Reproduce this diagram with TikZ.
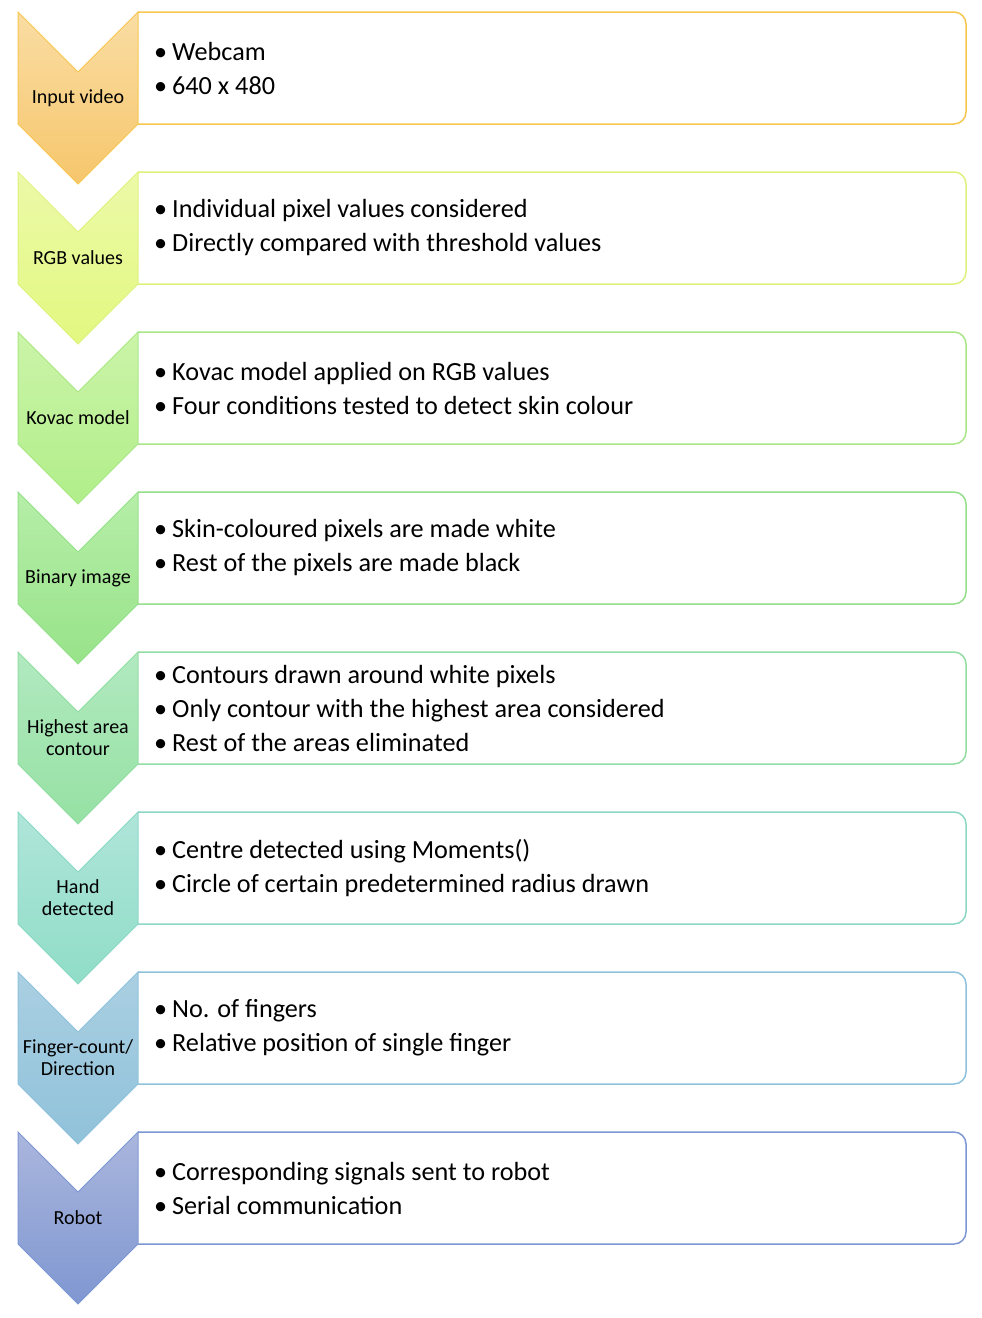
\documentclass[tikz,border=0pt]{standalone}
\usepackage{fontspec}
\setmainfont{Carlito}
\newcommand\bul[1]{\makebox[18pt][l]{•}#1}
\newcommand\flowstep[7]{%
  \definecolor{#1top}{HTML}{#4}%
  \definecolor{#1bot}{HTML}{#5}%
  \definecolor{#1brd}{HTML}{#6}%
  \pgfmathsetmacro\ya{#2}%
  \pgfmathsetmacro\yb{#2+112}%
  \pgfmathsetmacro\yn{#2+60}%
  \pgfmathsetmacro\yp{#2+172}%
  \pgfmathsetmacro\ym{#2+56}%
  \pgfmathsetmacro\yl{#2+86}%
  \draw[boxline, draw=#1brd] (138,\ya) -- (966,\ya) -- (966,\yb) -- (138,\yb);
  \path[chevline, draw=#1brd, top color=#1top, bottom color=#1bot]
    (18,\ya) -- (78,\yn) -- (138,\ya) -- (138,\yb) -- (78,\yp) -- (18,\yb) -- cycle;
  \node[steplabel] (#1-label) at (78,\yl) {#3};
  \node[bullettext] (#1-text) at (154,\ym) {#7};
}
\begin{document}
\begin{tikzpicture}[x=1pt,y=-1pt,
  boxline/.style={line width=1.5pt, rounded corners=12pt},
  chevline/.style={line width=1pt, line join=miter},
  steplabel/.style={align=center, inner sep=0pt, font=\fontsize{20}{22}\selectfont},
  bullettext/.style={anchor=west, align=left, inner sep=0pt, font=\fontsize{26.2}{34}\selectfont}]
\useasboundingbox (0,0) rectangle (982,1318);
\flowstep{s1}{12}{Input video}{FADDA3}{F6C66C}{F7C64E}{\bul{Webcam}\\\bul{640 x 480}}
\flowstep{s2}{172}{RGB values}{ECF9A8}{E2F880}{DDF27C}{\bul{Individual pixel values considered}\\\bul{Directly compared with threshold values}}
\flowstep{s3}{332}{Kovac model}{CBF4A8}{B1EE8A}{A9E786}{\bul{Kovac model applied on RGB values}\\\bul{Four conditions tested to detect skin colour}}
\flowstep{s4}{492}{Binary image}{B6EEA8}{98E38A}{94DF89}{\bul{Skin-coloured pixels are made white}\\\bul{Rest of the pixels are made black}}
\flowstep{s5}{652}{Highest area\\contour}{B1E9C0}{96E1A3}{92DDA3}{\bul{Contours drawn around white pixels}\\\bul{Only contour with the highest area considered}\\\bul{Rest of the areas eliminated}}
\flowstep{s6}{812}{Hand\\detected}{AFE5DA}{90DDC7}{8AD8C4}{\bul{Centre detected using Moments()}\\\bul{Circle of certain predetermined radius drawn}}
\flowstep{s7}{972}{Finger-count/\\Direction}{AACFE2}{90C2DA}{8EC2DC}{\bul{No. of fingers}\\\bul{Relative position of single finger}}
\flowstep{s8}{1132}{Robot}{AAB6DD}{7F97D1}{7C97D4}{\bul{Corresponding signals sent to robot}\\\bul{Serial communication}}
\end{tikzpicture}
\end{document}
